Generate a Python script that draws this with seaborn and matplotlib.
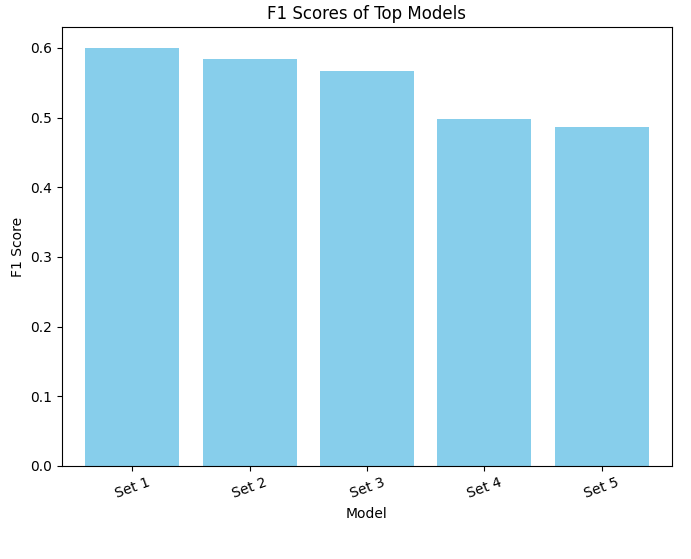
import matplotlib
matplotlib.use("Agg")
import matplotlib.pyplot as plt
import seaborn as sns
import pandas as pd

models = ["Set 1", "Set 2", "Set 3", "Set 4", "Set 5"]
f1_scores = [0.600, 0.584, 0.567, 0.498, 0.486]

df = pd.DataFrame({"Model": models, "F1 Score": f1_scores})

fig = plt.figure(figsize=(6.91, 5.59), dpi=100)
ax = fig.add_axes([0.0897, 0.1664, 0.8828, 0.7853])
sns.barplot(data=df, x="Model", y="F1 Score", color="skyblue", saturation=1,
            width=0.8, ax=ax)
ax.set_xlim(-0.6, 4.6)
ax.set_title("F1 Scores of Top Models")
ax.set_xlabel("Model")
ax.set_ylabel("F1 Score")
plt.setp(ax.get_xticklabels(), rotation=20)

fig.savefig("out.png", dpi=100)
